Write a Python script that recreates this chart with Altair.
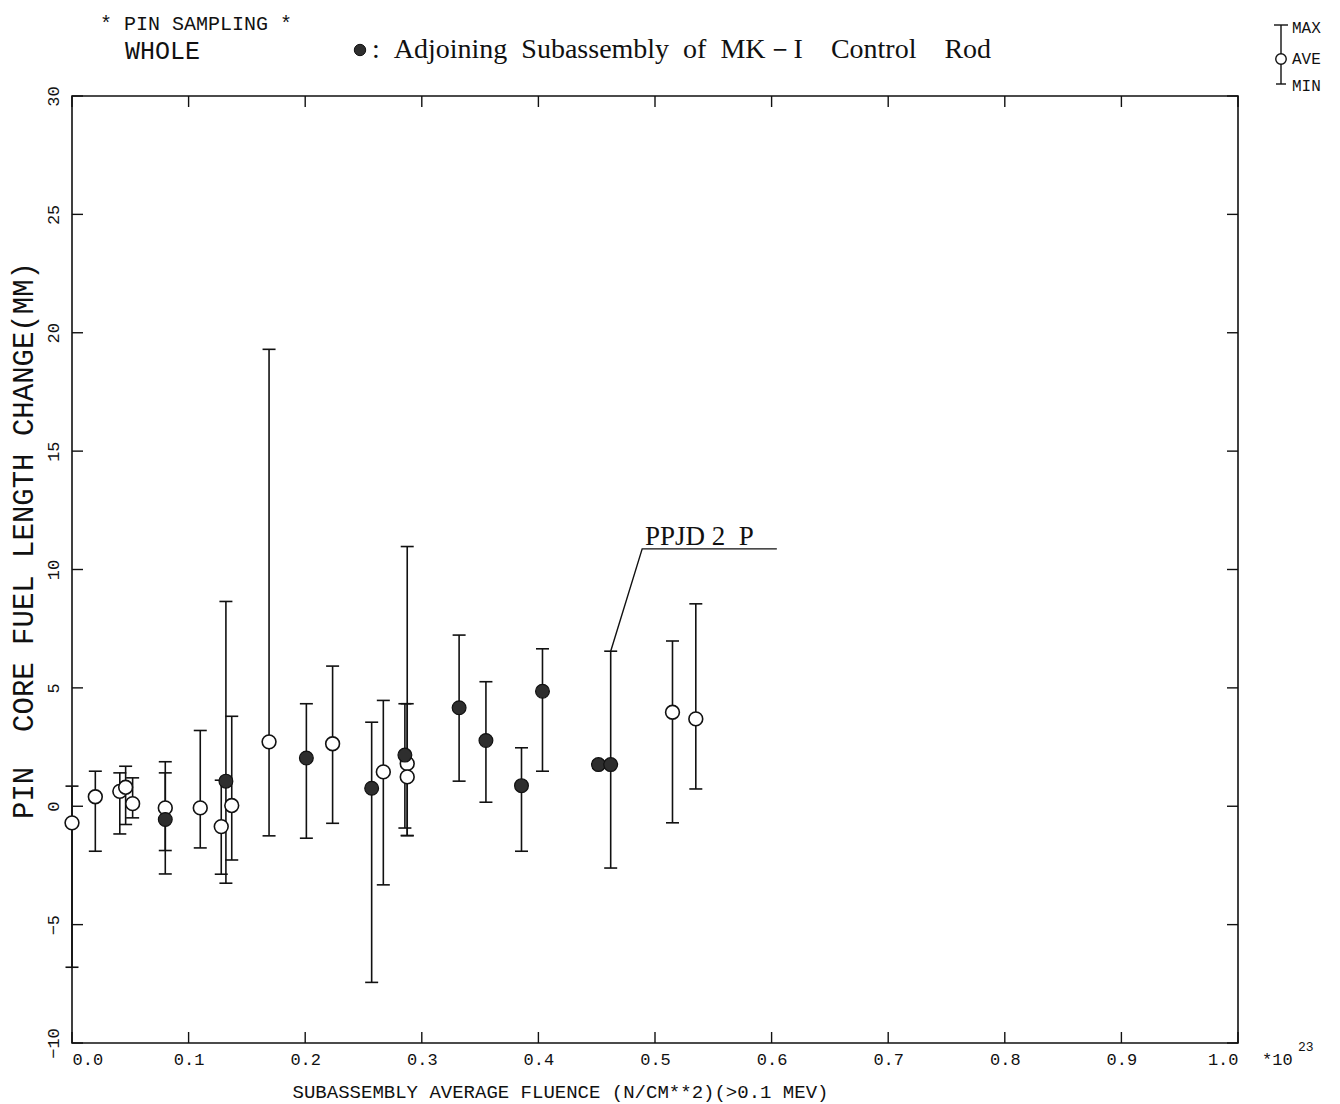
import altair as alt
import pandas as pd

# ---- measured pin core fuel length change per subassembly ----
fluence = [0.000, 0.020, 0.041, 0.046, 0.052, 0.080, 0.080, 0.110, 0.128, 0.132,
           0.137, 0.169, 0.201, 0.2235, 0.257, 0.267, 0.2855, 0.2875, 0.2875, 0.332,
           0.355, 0.3855, 0.4035, 0.4515, 0.462, 0.515, 0.535]
ave_change = [-0.70, 0.40, 0.63, 0.80, 0.11, -0.07, -0.56, -0.07, -0.86, 1.06,
              0.03, 2.72, 2.04, 2.64, 0.76, 1.45, 2.16, 1.80, 1.24, 4.16,
              2.78, 0.87, 4.86, 1.76, 1.76, 3.97, 3.69]
max_change = [0.85, 1.48, 1.41, 1.69, 1.20, 1.88, 1.41, 3.20, 1.10, 8.65,
              3.80, 19.30, 4.33, 5.92, 3.55, 4.47, 4.33, 10.97, 4.33, 7.23,
              5.26, 2.47, 6.65, 1.90, 6.55, 6.98, 8.55]
min_change = [-6.80, -1.90, -1.17, -0.77, -0.49, -1.87, -2.86, -1.76, -2.87, -3.25,
              -2.27, -1.25, -1.35, -0.72, -7.44, -3.32, -0.92, -1.24, -1.24, 1.06,
              0.17, -1.90, 1.48, 1.60, -2.61, -0.70, 0.73]
# True = subassembly adjoining a MK-I control rod (filled marker)
adjoining = [False, False, False, False, False, False, True, False, False, True,
             False, False, True, False, True, False, True, False, False, True,
             True, True, True, True, True, False, False]

x_ticks = [0.0, 0.1, 0.2, 0.3, 0.4, 0.5, 0.6, 0.7, 0.8, 0.9, 1.0]
y_ticks = [-10, -5, 0, 5, 10, 15, 20, 25, 30]

# leader line for the PPJD2P callout
leader_x = [0.462, 0.489, 0.6045]
leader_y = [6.55, 10.87, 10.87]
callout_text = ["PPJD\u00a02\u00a0\u00a0P"]
callout_x = [0.4914]
callout_y = [11.05]

X_TITLE = "SUBASSEMBLY AVERAGE FLUENCE (N/CM**2)(>0.1 MEV)"
Y_TITLE = "PIN\u00a0\u00a0CORE FUEL LENGTH CHANGE(MM)"

MONO = "Liberation Mono"
SERIF = "Liberation Serif"
INK = "#111111"
W, H = 1166, 947

df = pd.DataFrame({"f": fluence, "ave": ave_change, "hi": max_change,
                   "lo": min_change, "adj": adjoining})
open_df = df[~df["adj"]]
filled_df = df[df["adj"]]
leader_df = pd.DataFrame({"lx": leader_x, "ly": leader_y, "i": list(range(len(leader_x)))})
callout_df = pd.DataFrame({"lx": callout_x, "ly": callout_y, "t": callout_text})
xt_df = pd.DataFrame({"v": x_ticks})
yt_df = pd.DataFrame({"v": y_ticks})
one = pd.DataFrame({"k": [0]})

xs = alt.Scale(domain=[0, 1], nice=False, zero=False)
ys = alt.Scale(domain=[-10, 30], nice=False, zero=False)

x_axis = alt.Axis(values=x_ticks, format=".1f", ticks=False, domain=False, grid=False,
                  labelFont=MONO, labelFontSize=17, labelColor=INK, labelPadding=8,
                  title=X_TITLE, titleFont=MONO, titleFontSize=19, titleFontWeight="normal",
                  titleColor=INK, titleX=488, titleY=54, titleBaseline="alphabetic")
y_axis = alt.Axis(values=y_ticks, format="d", ticks=False, domain=False, grid=False,
                  labelFont=MONO, labelFontSize=17, labelColor=INK, labelPadding=10,
                  labelAngle=270, labelAlign="center", labelBaseline="bottom",
                  title=Y_TITLE, titleFont=MONO, titleFontSize=29, titleFontWeight="normal",
                  titleColor=INK, titleAngle=270, titleX=-40, titleY=444,
                  titleAlign="center", titleBaseline="alphabetic")


def X(field):
    return alt.X(field, type="quantitative", scale=xs, axis=x_axis)


def Y(field):
    return alt.Y(field, type="quantitative", scale=ys, axis=y_axis)


# error bars (MIN..MAX) with caps
bars = alt.Chart(df).mark_rule(color=INK, strokeWidth=1.6).encode(
    x=X("f"), y=Y("lo"), y2="hi")
cap_hi = alt.Chart(df).mark_rule(color=INK, strokeWidth=1.6, xOffset=-6.5, x2Offset=6.5).encode(
    x=X("f"), x2="f", y=Y("hi"))
cap_lo = alt.Chart(df).mark_rule(color=INK, strokeWidth=1.6, xOffset=-6.5, x2Offset=6.5).encode(
    x=X("f"), x2="f", y=Y("lo"))

# AVE markers
open_pts = alt.Chart(open_df).mark_point(shape="circle", filled=True, fill="white", stroke=INK,
                                         strokeWidth=1.6, size=190, opacity=1).encode(
    x=X("f"), y=Y("ave"))
filled_pts = alt.Chart(filled_df).mark_point(shape="circle", filled=True, fill="#2e2e2e", stroke=INK,
                                             strokeWidth=1.2, size=190, opacity=1).encode(
    x=X("f"), y=Y("ave"))

leader = alt.Chart(leader_df).mark_line(color=INK, strokeWidth=1.4).encode(
    x=X("lx"), y=Y("ly"), order="i")
callout = alt.Chart(callout_df).mark_text(font=SERIF, fontSize=27, color=INK, align="left",
                                          baseline="alphabetic").encode(
    x=X("lx"), y=Y("ly"), text="t")

# inward tick marks on all four sides of the frame
TK = 11
tick_bottom = alt.Chart(xt_df).mark_rule(color=INK, strokeWidth=1.4).encode(
    x=X("v"), y=alt.value(H), y2=alt.value(H - TK))
tick_top = alt.Chart(xt_df).mark_rule(color=INK, strokeWidth=1.4).encode(
    x=X("v"), y=alt.value(0), y2=alt.value(TK))
tick_left = alt.Chart(yt_df).mark_rule(color=INK, strokeWidth=1.4).encode(
    y=Y("v"), x=alt.value(0), x2=alt.value(TK))
tick_right = alt.Chart(yt_df).mark_rule(color=INK, strokeWidth=1.4).encode(
    y=Y("v"), x=alt.value(W - TK), x2=alt.value(W))


def note(text, x, y, font=MONO, size=19, align="left", baseline="alphabetic"):
    return alt.Chart(one).mark_text(text=text, font=font, fontSize=size, color=INK,
                                    align=align, baseline=baseline).encode(
        x=alt.value(x), y=alt.value(y))


# header
head1 = note("*\u00a0PIN\u00a0SAMPLING\u00a0*", 28, -66, size=20)
head2 = note("WHOLE", 53, -37, size=25)
bullet = alt.Chart(one).mark_point(shape="circle", filled=True, fill="#2e2e2e", stroke=INK,
                                   strokeWidth=1, size=130, opacity=1).encode(
    x=alt.value(288), y=alt.value(-46))
head3 = note(":\u00a0\u00a0Adjoining\u00a0\u00a0Subassembly\u00a0\u00a0of\u00a0\u00a0MK\uff0dI"
             "\u00a0\u00a0\u00a0\u00a0Control\u00a0\u00a0\u00a0\u00a0Rod",
             300, -38, font=SERIF, size=28)

# MAX / AVE / MIN key
LX = 1209
key_line = alt.Chart(one).mark_rule(color=INK, strokeWidth=1.4).encode(
    x=alt.value(LX), y=alt.value(-71), y2=alt.value(-12))
key_top = alt.Chart(one).mark_rule(color=INK, strokeWidth=1.4).encode(
    x=alt.value(LX - 7), x2=alt.value(LX + 7), y=alt.value(-71))
key_bot = alt.Chart(one).mark_rule(color=INK, strokeWidth=1.4).encode(
    x=alt.value(LX - 5), x2=alt.value(LX + 5), y=alt.value(-12))
key_dot = alt.Chart(one).mark_point(shape="circle", filled=True, fill="white", stroke=INK,
                                    strokeWidth=1.4, size=110, opacity=1).encode(
    x=alt.value(LX), y=alt.value(-37))
key_max = note("MAX", LX + 11, -68, size=16, baseline="middle")
key_ave = note("AVE", LX + 11, -37, size=16, baseline="middle")
key_min = note("MIN", LX + 11, -10, size=16, baseline="middle")

# exponent of the fluence axis
exp_base = note("*10", 1190, 964, size=17, baseline="middle")
exp_pow = note("23", 1226, 951, size=13, baseline="middle")

chart = alt.layer(
    tick_bottom, tick_top, tick_left, tick_right,
    bars, cap_hi, cap_lo, open_pts, filled_pts, leader, callout,
    head1, head2, bullet, head3,
    key_line, key_top, key_bot, key_dot, key_max, key_ave, key_min,
    exp_base, exp_pow,
).properties(
    width=W, height=H,
    padding={"left": 72, "top": 96, "right": 1340 - 72 - W, "bottom": 1104 - 96 - H},
    autosize=alt.AutoSizeParams(type="none"),
    background="white",
).configure_view(stroke=INK, strokeWidth=1.6)

chart.save("out.html", embed_options={"renderer": "svg", "actions": False})
